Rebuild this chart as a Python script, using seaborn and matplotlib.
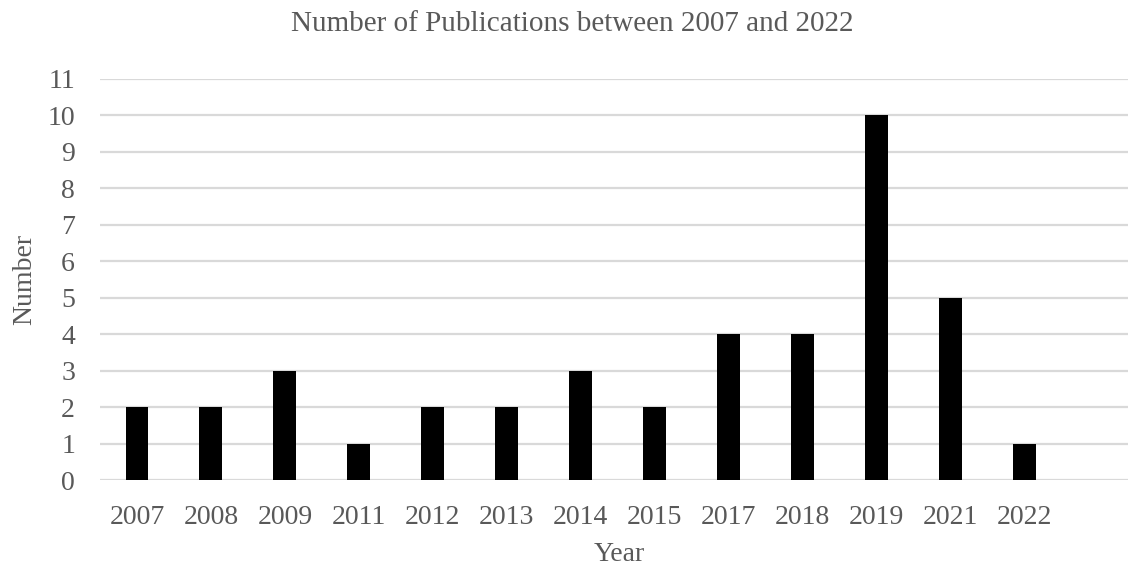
import pandas as pd
import numpy as np
import seaborn as sns
import matplotlib.pyplot as plt

years = ['2007', '2008', '2009', '2011', '2012', '2013', '2014', '2015', '2017', '2018', '2019', '2021', '2022']
counts = [2, 2, 3, 1, 2, 2, 3, 2, 4, 4, 10, 5, 1]
yticks = list(range(0, 12))

df = pd.DataFrame({'Year': years, 'Number': counts})

sns.set_style('white')
plt.rcParams['font.family'] = ['Liberation Serif', 'DejaVu Serif']
grey = '#595959'

fig = plt.figure(figsize = (11.29, 5.70), dpi = 100)
ax = fig.add_axes([100 / 1129, 1 - 480 / 570, 1028 / 1129, 401 / 570])

# extra blank slot at the end like the original chart
order = years + [' ']
sns.barplot(data = df, x = 'Year', y = 'Number', order = order, color = 'black',
            width = 0.31, linewidth = 0, saturation = 1, ax = ax)

ax.set_xlim(-0.5, len(order) - 0.6)
ax.set_ylim(0, 11)
ax.set_yticks(yticks)
ax.yaxis.grid(True, color = '#d9d9d9', linewidth = 1.6)
ax.set_axisbelow(True)
sns.despine(ax = ax, left = True, bottom = True)

ax.tick_params(axis = 'both', length = 0, labelsize = 20, labelcolor = grey, pad = 18)
ax.set_xlabel('Year', fontsize = 20, color = grey)
ax.set_ylabel('Number', fontsize = 20, color = grey)
ax.xaxis.set_label_coords(0.505, -0.155)
ax.yaxis.set_label_coords(-0.061, 0.5)

fig.text(572 / 1129, 1 - 24 / 570, 'Number of Publications between 2007 and 2022',
         ha = 'center', va = 'center', fontsize = 21, color = grey)

plt.savefig('out.png', dpi = 100)
